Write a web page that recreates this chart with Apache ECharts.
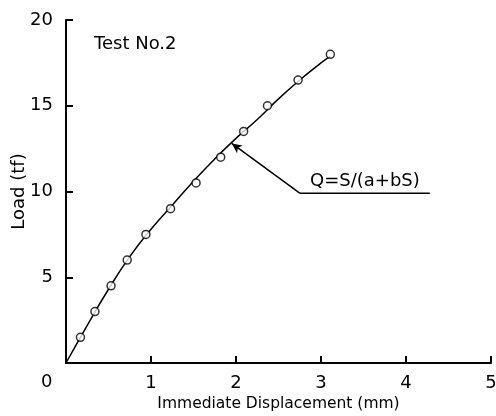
<!DOCTYPE html>
<html>
<head>
<meta charset="utf-8">
<script src="https://cdn.jsdelivr.net/npm/echarts@6/dist/echarts.min.js"></script>
<style>
  html, body { margin: 0; padding: 0; background: #fff; }
  #content { width: 496px; height: 416px; }
</style>
</head>
<body>
<div id="content"></div>
<script>
// measured points (displacement mm, load tf)
var dispPts = [0.17, 0.34, 0.53, 0.72, 0.94, 1.23, 1.53, 1.82, 2.09, 2.37, 2.73, 3.11];
var loadPts = [1.5, 3.0, 4.5, 6.0, 7.5, 9.0, 10.5, 12.0, 13.5, 15.0, 16.5, 18.0];
// fitted curve
var curveS = [0, 0.25, 0.5, 0.75, 1, 1.25, 1.5, 1.75, 2, 2.25, 2.5, 2.75, 3, 3.11];
var curveQ = [0, 2.2, 4.3, 6.2, 7.8, 9.2, 10.6, 11.9, 13.1, 14.2, 15.4, 16.5, 17.5, 17.9];
// leader line for the formula label
var leaderS = [1.95, 2.75, 4.28];
var leaderQ = [12.8, 9.9, 9.9];
var xTicks = [0, 1, 2, 3, 4, 5];
var yTicks = [0, 5, 10, 15, 20];

var font = '"DejaVu Sans", sans-serif';
var chartDom = document.getElementById("content");
var myChart = echarts.init(chartDom);

var option = {
  animation: false,
  grid: { left: 66, right: 5, top: 20, bottom: 53, containLabel: false, outerBoundsMode: "none" },
  xAxis: {
    type: "value",
    min: 0,
    max: 5,
    interval: 1,
    name: "Immediate Displacement (mm)",
    nameLocation: "middle",
    nameGap: 33,
    nameMoveOverlap: false,
    nameTextStyle: { color: "#000", fontSize: 15.5, fontFamily: font },
    axisLine: { lineStyle: { color: "#000", width: 2 } },
    axisTick: { show: true, inside: true, length: 7, lineStyle: { color: "#000", width: 2 } },
    axisLabel: {
      color: "#000", fontSize: 18, fontFamily: font, margin: 11,
      formatter: function (v) { return v === 0 ? "" : String(xTicks[v]); }
    },
    splitLine: { show: false }
  },
  yAxis: {
    type: "value",
    min: 0,
    max: 20,
    interval: 5,
    name: "Load (tf)",
    nameLocation: "middle",
    nameGap: 38,
    nameMoveOverlap: false,
    nameTextStyle: { color: "#000", fontSize: 18, fontFamily: font },
    axisLine: { lineStyle: { color: "#000", width: 2 } },
    axisTick: { show: true, inside: true, length: 7, lineStyle: { color: "#000", width: 2 } },
    axisLabel: {
      color: "#000", fontSize: 18, fontFamily: font, margin: 13,
      formatter: function (v) { return v === 0 ? "" : String(yTicks[v / 5]); }
    },
    splitLine: { show: false }
  },
  graphic: [
    { type: "text", left: 41, top: 373, style: { text: "0", fill: "#000", font: "18px " + font } },
    { type: "text", left: 94, top: 35, style: { text: "Test No.2", fill: "#000", font: "18px " + font } },
    { type: "text", left: 310, top: 172, style: { text: "Q=S/(a+bS)", fill: "#000", font: "18px " + font } }
  ],
  series: [
    {
      type: "line",
      smooth: true,
      showSymbol: false,
      data: curveS.map(function (s, i) { return [s, curveQ[i]]; }),
      lineStyle: { color: "#000", width: 1.5 },
      z: 2
    },
    {
      type: "scatter",
      symbol: "circle",
      symbolSize: 8,
      data: dispPts.map(function (s, i) { return [s, loadPts[i]]; }),
      itemStyle: { color: "#fff", borderColor: "#000", borderWidth: 1.5 },
      z: 3
    },
    {
      type: "line",
      showSymbol: false,
      data: leaderS.slice(1).map(function (s, i) { return [s, leaderQ[i + 1]]; }),
      lineStyle: { color: "#000", width: 1.5 },
      markLine: {
        silent: true,
        symbol: ["none", "arrow"],
        symbolSize: [7, 10],
        label: { show: false },
        lineStyle: { color: "#000", width: 1.5, type: "solid" },
        data: [[
          { coord: [leaderS[1], leaderQ[1]] },
          { coord: [leaderS[0], leaderQ[0]] }
        ]]
      },
      z: 2
    }
  ]
};
myChart.setOption(option);
</script>
</body>
</html>
